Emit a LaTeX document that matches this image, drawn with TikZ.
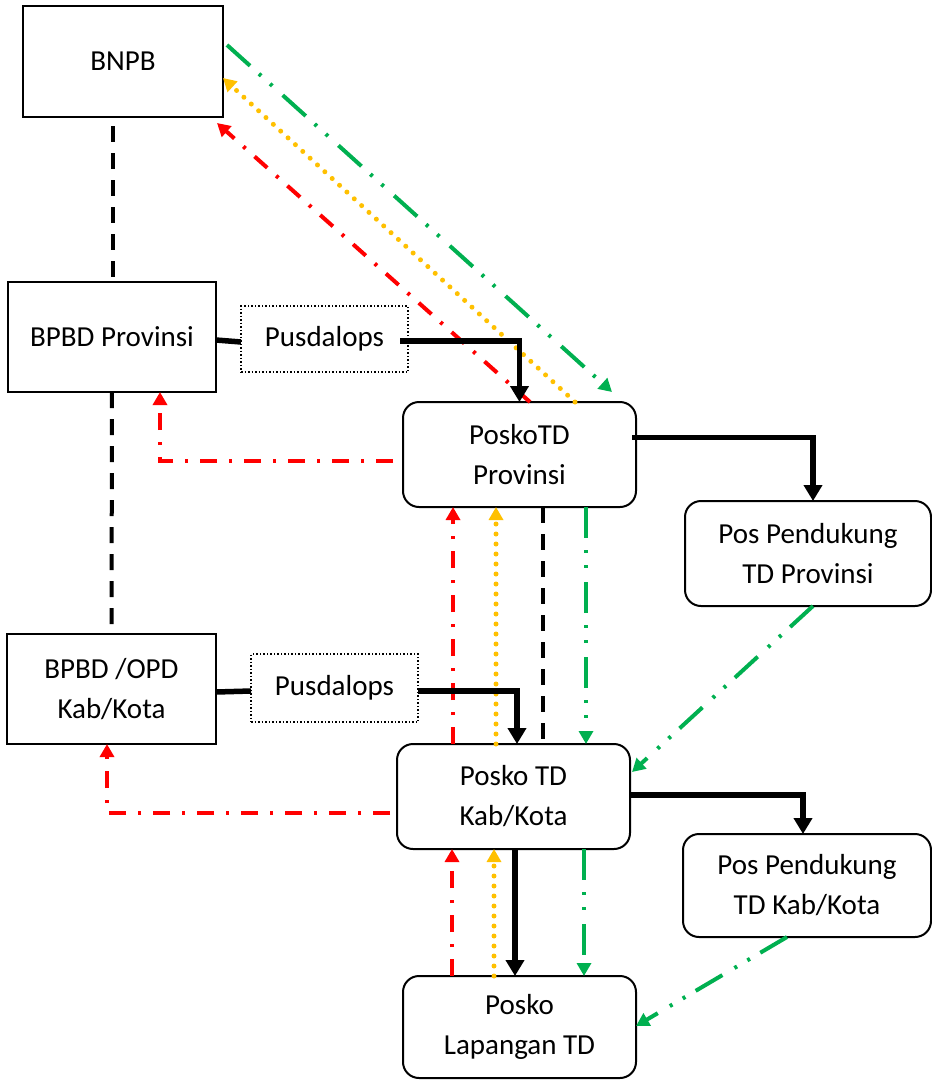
\documentclass[tikz,border=0pt]{standalone}
\usepackage{fontspec}
\setmainfont{Carlito}
\usetikzlibrary{calc,arrows.meta}
\definecolor{cred}{HTML}{FF0000}
\definecolor{cyel}{HTML}{FFC000}
\definecolor{cgrn}{HTML}{00B050}
\begin{document}
\begin{tikzpicture}[x=1pt,y=-1pt,
  every node/.style={inner sep=0pt,outer sep=0pt,align=center,font=\fontsize{29}{40}\selectfont},
  sqbox/.style={draw,line width=2pt,rectangle},
  rbox/.style={draw,line width=2pt,rectangle,rounded corners=16pt},
  dotbox/.style={draw,line width=1.5pt,rectangle,dash pattern=on 1.5pt off 2pt},
  solidarrow/.style={line width=5.5pt,-{Triangle[length=16pt,width=18pt]}},
  solidline/.style={line width=5.5pt},
  blackdash/.style={line width=4pt,dash pattern=on 16pt off 11pt},
  redarrow/.style={cred,line width=4pt,dash pattern=on 17pt off 12pt on 3pt off 12pt,-{Triangle[length=13pt,width=14pt]}},
  yelarrow/.style={cyel,line width=5pt,line cap=round,dash pattern=on 0pt off 10pt,-{Triangle[length=13pt,width=14pt,line cap=butt]}},
  grnarrow/.style={cgrn,line width=4pt,dash pattern=on 31pt off 12pt on 3pt off 12pt on 3pt off 14pt,-{Triangle[length=13pt,width=14pt]}}]
\useasboundingbox (0,0) rectangle (932,1080);
% nodes
\node[sqbox,minimum width=200pt,minimum height=111pt] (bnpb) at (123,61.5) {BNPB};
\node[sqbox,minimum width=208pt,minimum height=110pt] (bpbdp) at (112,337) {BPBD Provinsi};
\node[dotbox,minimum width=167pt,minimum height=66pt] (pus1) at (324.5,339) {Pusdalops};
\node[rbox,minimum width=233pt,minimum height=105pt] (poskop) at (519.5,454.5) {PoskoTD\\Provinsi};
\node[rbox,minimum width=246pt,minimum height=105pt] (pendp) at (808,553.5) {Pos Pendukung\\TD Provinsi};
\node[sqbox,minimum width=209pt,minimum height=110pt] (bpbdk) at (111.5,689) {BPBD /OPD\\Kab/Kota};
\node[dotbox,minimum width=167pt,minimum height=68pt] (pus2) at (334.5,688) {Pusdalops};
\node[rbox,minimum width=233pt,minimum height=105pt] (poskok) at (513.5,796.5) {Posko TD\\Kab/Kota};
\node[rbox,minimum width=248pt,minimum height=103pt] (pendk) at (807,885.5) {Pos Pendukung\\TD Kab/Kota};
\node[rbox,minimum width=233pt,minimum height=102pt] (lap) at (519.5,1027) {Posko\\Lapangan TD};
% coloured connectors
\draw[grnarrow] ($(bnpb.east)+(4,-16.5)$) -- ($(poskop.north)+(92.5,-10)$);
\draw[yelarrow] ($(poskop.north)+(55.5,0)$) -- ($(bnpb.east)+(0,16.5)$);
\draw[redarrow] ($(poskop.north)+(10.5,0)$) -- ($(bnpb.south east)+(-6,6)$);
\draw[redarrow] ($(poskop.west)+(-10,6.5)$) -| ($(bpbdp.south)+(48,0)$);
\draw[redarrow] ($(poskok.west)+(-7,16.5)$) -| ($(bpbdk.south)+(-4.5,0)$);
\draw[redarrow] ($(poskok.north)+(-60.5,0)$) -- ($(poskop.south)+(-66.5,0)$);
\draw[yelarrow] ($(poskok.north)+(-17.5,0)$) -- ($(poskop.south)+(-23.5,0)$);
\draw[grnarrow] ($(poskop.south)+(66.5,0)$) -- ($(poskok.north)+(72.5,0)$);
\draw[redarrow] ($(lap.north)+(-67.5,0)$) -- ($(poskok.south)+(-61.5,0)$);
\draw[yelarrow] ($(lap.north)+(-25.5,0)$) -- ($(poskok.south)+(-19.5,0)$);
\draw[grnarrow] ($(poskok.south)+(70.5,0)$) -- ($(lap.north)+(64.5,0)$);
\draw[grnarrow] ($(pendp.south)+(5,0)$) -- ($(poskok.east)+(2,-24.5)$);
\draw[grnarrow] ($(pendk.south)+(-20,0)$) -- ($(lap.east)+(0,-1)$);
% black connectors
\draw[blackdash] ($(bnpb.south)+(-10.5,9)$) -- ($(bpbdp.north)+(0.5,0)$);
\draw[blackdash] (bpbdp.south) -- (bpbdk.north);
\draw[blackdash] ($(poskop.south)+(23.5,0)$) -- ($(poskok.north)+(29.5,0)$);
\draw[solidline] ($(bpbdp.east)+(0,3)$) -- ($(pus1.west)+(0,3)$);
\draw[solidarrow] ($(pus1.east)+(-8,2)$) -| (poskop.north);
\draw[solidarrow] ($(poskop.east)+(-4,-17)$) -| ($(pendp.north)+(5,0)$);
\draw[solidline] ($(bpbdk.east)+(0,3)$) -- ($(pus2.west)+(0,3)$);
\draw[solidarrow] ($(pus2.east)+(0,3)$) -| ($(poskok.north)+(3.5,0)$);
\draw[solidarrow] ($(poskok.east)+(0,-1.5)$) -| ($(pendk.north)+(-4,0)$);
\draw[solidarrow] ($(poskok.south)+(1.5,0)$) -- ($(lap.north)+(-4.5,0)$);
\end{tikzpicture}
\end{document}
